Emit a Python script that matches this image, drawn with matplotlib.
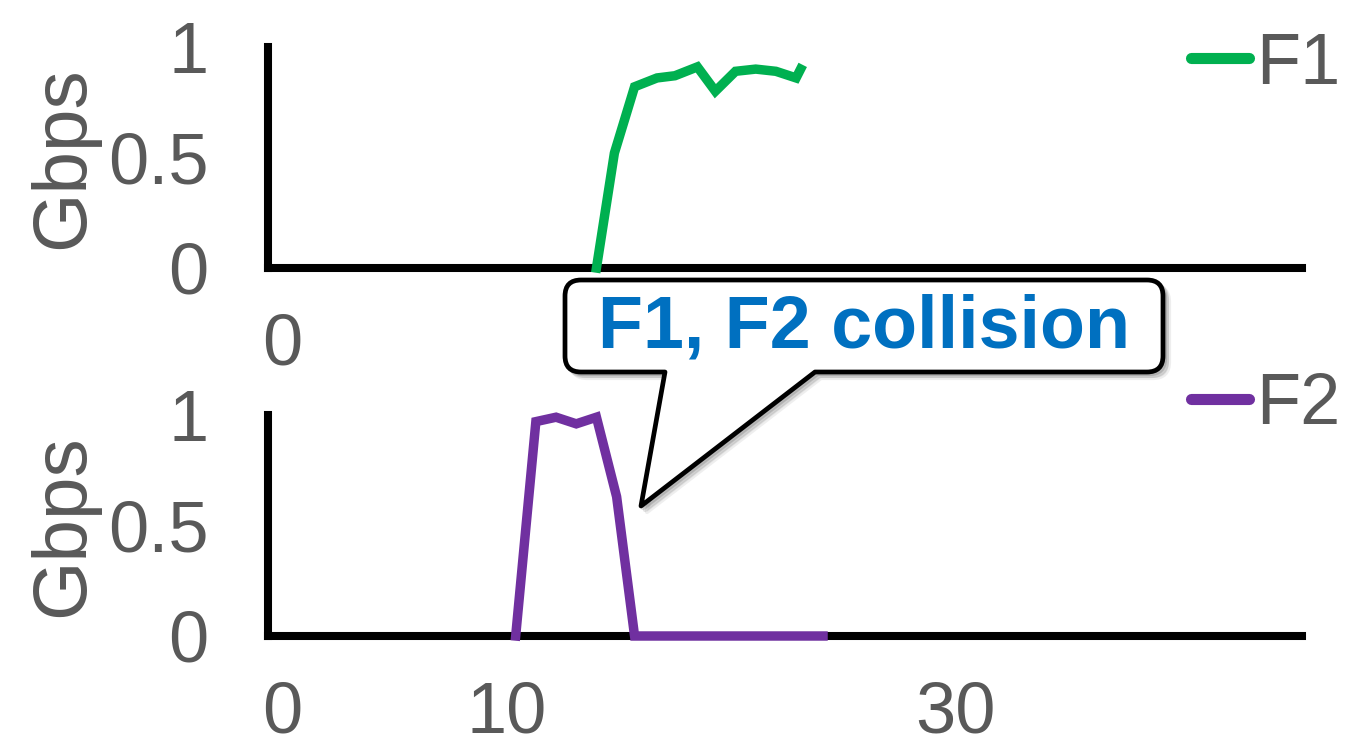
import matplotlib
matplotlib.use("Agg")
import matplotlib.pyplot as plt
from matplotlib.path import Path
from matplotlib.patches import PathPatch
from matplotlib.lines import Line2D

plt.rcParams['font.family'] = ['Liberation Sans', 'DejaVu Sans']

# Throughput traces (time in s, rate in Gbps)
f1_t = [14.0, 14.8, 15.7, 16.7, 17.5, 18.5, 19.3, 20.2, 21.1, 22.0, 22.9, 23.1]
f1_gbps = [0.0, 0.52, 0.82, 0.86, 0.87, 0.91, 0.80, 0.89, 0.90, 0.89, 0.86, 0.90]

f2_t = [10.4, 11.3, 12.2, 13.1, 14.0, 14.9, 15.7, 24.1]
f2_gbps = [0.0, 0.97, 0.99, 0.96, 0.99, 0.63, 0.0, 0.0]

y_ticks = [0, 0.5, 1]
y_tick_labels = ["0", "0.5", "1"]
top_x_ticks = [0]
bottom_x_ticks = [0, 10, 30]
series_names = ["F1", "F2"]
callout_text = "F1, F2 collision"

GREEN = "#00B050"
PURPLE = "#7030A0"
GRAY = "#595959"
BLUE = "#0070C0"

W, H = 1357, 750
fig = plt.figure(figsize=(W / 100, H / 100), dpi=100)

ax1 = fig.add_axes([268 / W, 1 - 268 / H, (1302 - 268) / W, (268 - 47) / H])
ax2 = fig.add_axes([268 / W, 1 - 636 / H, (1302 - 268) / W, (636 - 415) / H])


def style(ax, xticks):
    ax.set_xlim(-0.64, 45.45)
    ax.set_ylim(0, 1)
    for s in ("top", "right"):
        ax.spines[s].set_visible(False)
    for s in ("left", "bottom"):
        ax.spines[s].set_linewidth(5.8)
        ax.spines[s].set_color("black")
        ax.spines[s].set_capstyle("projecting")
    ax.set_yticks(y_ticks)
    ax.set_yticklabels(y_tick_labels)
    ax.set_xticks(xticks)
    ax.set_xticklabels([str(v) for v in xticks])
    ax.tick_params(axis="y", length=0, pad=43, labelsize=52, labelcolor=GRAY)
    ax.tick_params(axis="x", length=0, pad=32, labelsize=52, labelcolor=GRAY)
    ax.set_ylabel("Gbps", fontsize=55, color=GRAY)
    ax.yaxis.set_label_coords(-0.163, 0.5)
    ax.set_facecolor("none")


style(ax1, top_x_ticks)
style(ax2, bottom_x_ticks)

ax1.plot(f1_t, f1_gbps, color=GREEN, lw=6.8, zorder=3, clip_on=False,
         solid_joinstyle="miter")
ax2.plot(f2_t, f2_gbps, color=PURPLE, lw=6.8, zorder=3, clip_on=False,
         solid_joinstyle="miter")

for ax, name, col, y in ((ax1, series_names[0], GREEN, 65),
                         (ax2, series_names[1], PURPLE, 406)):
    h = Line2D([], [], color=col, lw=8, solid_capstyle="round")
    ax.legend([h], [name], loc="center right",
              bbox_to_anchor=(1340 / W, 1 - y / H),
              bbox_transform=fig.transFigure, frameon=False,
              handlelength=0.8, handletextpad=0.1, borderpad=0,
              borderaxespad=0, fontsize=52, labelcolor=GRAY)

# Speech-bubble callout drawn on a pixel-space overlay
ov = fig.add_axes([0, 0, 1, 1])
ov.set_xlim(0, W)
ov.set_ylim(H, 0)
ov.axis("off")
ov.set_zorder(10)

x0, x1, y0, y1, r = 565, 1163, 280, 372, 16
tip = (641, 506)
b_left, b_right = 665, 815
verts = [
    (x0 + r, y0), (x1 - r, y0), (x1, y0), (x1, y0 + r),
    (x1, y1 - r), (x1, y1), (x1 - r, y1),
    (b_right, y1), tip, (b_left, y1),
    (x0 + r, y1), (x0, y1), (x0, y1 - r),
    (x0, y0 + r), (x0, y0), (x0 + r, y0),
    (x0 + r, y0),
]
codes = [
    Path.MOVETO, Path.LINETO, Path.CURVE3, Path.CURVE3,
    Path.LINETO, Path.CURVE3, Path.CURVE3,
    Path.LINETO, Path.LINETO, Path.LINETO,
    Path.LINETO, Path.CURVE3, Path.CURVE3,
    Path.LINETO, Path.CURVE3, Path.CURVE3,
    Path.CLOSEPOLY,
]
bubble = Path(verts, codes)
for off, a in ((6, 0.12), (4, 0.2), (2, 0.25)):
    shadow = Path([(vx + off, vy + off) for vx, vy in verts], codes)
    ov.add_patch(PathPatch(shadow, facecolor="#777777", edgecolor="#777777",
                           lw=3, alpha=a, joinstyle="round"))
ov.add_patch(PathPatch(bubble, facecolor="white", edgecolor="black",
                       lw=3.4, joinstyle="round"))
ov.text((x0 + x1) / 2, (y0 + y1) / 2 + 2, callout_text, ha="center",
        va="center", fontsize=53, fontweight="bold", color=BLUE)

fig.savefig("out.png", dpi=100)
